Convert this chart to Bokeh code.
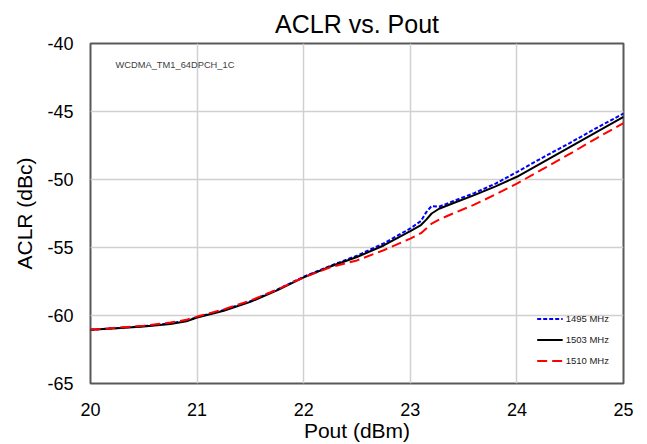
from bokeh.plotting import figure
from bokeh.models import Range1d, FixedTicker, Label, Legend, LegendItem
from bokeh.embed import file_html
from bokeh.resources import INLINE

# ---- data ----
pout = [20.0, 20.25, 20.5, 20.75, 20.9, 21.0, 21.25, 21.5, 21.75, 22.0, 22.25, 22.5, 22.75,
        23.0, 23.1, 23.15, 23.2, 23.27, 23.4, 23.6, 23.8, 24.0, 24.25, 24.5, 24.75, 25.0]
aclr_1495 = [-61.05, -60.92, -60.78, -60.58, -60.38, -60.12, -59.6, -58.95, -58.1, -57.15, -56.35, -55.6, -54.7,
             -53.6, -53.05, -52.4, -51.95, -52.0, -51.6, -51.0, -50.3, -49.45, -48.35, -47.3, -46.2, -45.15]
aclr_1503 = [-61.05, -60.93, -60.8, -60.62, -60.42, -60.15, -59.65, -59.0, -58.15, -57.2, -56.4, -55.7, -54.85,
             -53.8, -53.35, -52.95, -52.5, -52.15, -51.75, -51.15, -50.5, -49.8, -48.7, -47.6, -46.5, -45.4]
aclr_1510 = [-61.05, -60.9, -60.75, -60.52, -60.32, -60.08, -59.55, -58.9, -58.1, -57.2, -56.45, -55.95, -55.2,
             -54.35, -53.95, -53.6, -53.25, -52.95, -52.5, -51.85, -51.1, -50.3, -49.2, -48.1, -46.95, -45.85]
series_labels = ["1495 MHz", "1503 MHz", "1510 MHz"]
x_ticks = [20, 21, 22, 23, 24, 25]
y_ticks = [-65, -60, -55, -50, -45, -40]
title_text = "ACLR vs. Pout"
x_label = "Pout (dBm)"
y_label = "ACLR (dBc)"
note_text = "WCDMA_TM1_64DPCH_1C"

FONT = "Liberation Sans"

p = figure(width=647, height=444, output_backend="svg", toolbar_location=None,
           x_range=Range1d(20, 25), y_range=Range1d(-65, -40),
           min_border_left=90, min_border_right=24, min_border_top=43, min_border_bottom=61,
           title=title_text)

p.title.align = "center"
p.title.vertical_align = "middle"
p.title.text_font = FONT
p.title.text_font_size = "25px"
p.title.text_font_style = "normal"
p.title.text_color = "black"
p.title.standoff = 10

p.outline_line_color = "#595959"
p.outline_line_width = 2
p.background_fill_color = "white"
p.border_fill_color = "white"

for ax in (p.xaxis[0], p.yaxis[0]):
    ax.axis_line_color = None
    ax.major_tick_line_color = None
    ax.minor_tick_line_color = None
    ax.major_tick_in = 0
    ax.major_tick_out = 0
    ax.minor_tick_in = 0
    ax.minor_tick_out = 0
    ax.major_label_text_font = FONT
    ax.major_label_text_font_size = "18px"
    ax.major_label_text_color = "black"
    ax.axis_label_text_font = FONT
    ax.axis_label_text_font_size = "21px"
    ax.axis_label_text_font_style = "normal"
    ax.axis_label_text_color = "black"

p.xaxis.ticker = FixedTicker(ticks=x_ticks)
p.yaxis.ticker = FixedTicker(ticks=y_ticks)
p.yaxis.major_label_overrides = {t: str(t) for t in y_ticks}
p.xaxis.axis_label = x_label
p.yaxis.axis_label = y_label
p.xaxis.major_label_standoff = 19
p.yaxis.major_label_standoff = 17
p.xaxis.axis_label_standoff = 0
p.yaxis.axis_label_standoff = 8

p.xgrid.ticker = FixedTicker(ticks=x_ticks)
p.ygrid.ticker = FixedTicker(ticks=y_ticks)
p.grid.grid_line_color = "#d0d0d0"
p.grid.grid_line_width = 1.5

r1 = p.line(pout, aclr_1495, line_color="#0000ff", line_width=2, line_dash="4 2")
r2 = p.line(pout, aclr_1503, line_color="black", line_width=2)
r3 = p.line(pout, aclr_1510, line_color="#ff0000", line_width=2, line_dash="10 5")

legend = Legend(items=[LegendItem(label=series_labels[0], renderers=[r1]),
                       LegendItem(label=series_labels[1], renderers=[r2]),
                       LegendItem(label=series_labels[2], renderers=[r3])],
                location="bottom_right")
legend.border_line_color = None
legend.background_fill_alpha = 0
legend.label_text_font = FONT
legend.label_text_font_size = "9.5px"
legend.label_text_color = "#222222"
legend.glyph_width = 26
legend.glyph_height = 17
legend.label_height = 17
legend.label_standoff = 3
legend.spacing = 4
legend.margin = 14
legend.padding = 7
p.add_layout(legend, "center")

note = Label(x=20.235, y=-41.55, text=note_text, text_font=FONT, text_font_size="9.3px",
             text_color="#404040", text_baseline="middle", text_align="left")
p.add_layout(note)

open("out.html", "w").write(file_html(p, INLINE))
